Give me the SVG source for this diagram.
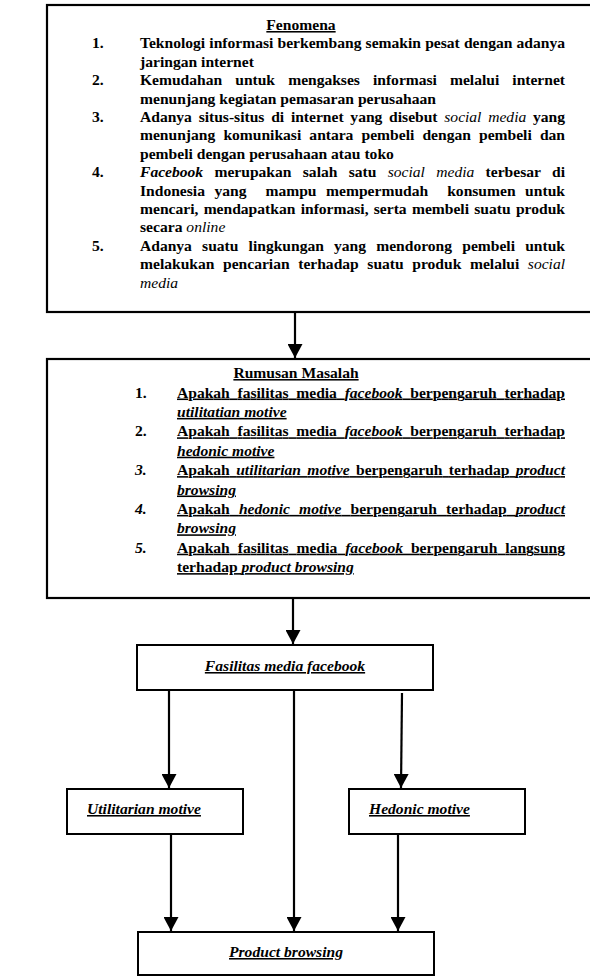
<svg xmlns="http://www.w3.org/2000/svg" width="590" height="976" viewBox="0 0 590 976">
<style>
.t{font-family:"Liberation Serif","Times New Roman",serif;font-size:15.6px;font-weight:bold;fill:#000}
.bi{font-style:italic}
.ri{font-style:italic;font-weight:normal}
.u{text-decoration:underline}
.box{fill:#fff;stroke:#000;stroke-width:2}
.big{fill:none;stroke:#000;stroke-width:2.2}
.c{stroke:#000;stroke-width:2.2;fill:none;marker-end:url(#ah)}
</style>
<defs>
<marker id="ah" viewBox="0 0 14 15" refX="14" refY="7.5" markerWidth="14" markerHeight="15" markerUnits="userSpaceOnUse" orient="auto">
<path d="M0,0 L14,7.5 L0,15 z" fill="#000"/>
</marker>
</defs>
<rect width="590" height="976" fill="#fff"/>

<g id="node-fenomena">
<rect class="big" x="47" y="5" width="560" height="307"/>
<text class="t u" x="301" y="30" text-anchor="middle">Fenomena</text>
<text class="t" x="92" y="48.4">1.</text>
<text class="t" x="140" y="48.4" textLength="425" lengthAdjust="spacing" word-spacing="0.3">Teknologi informasi berkembang semakin pesat dengan adanya</text>
<text class="t" x="140" y="66.8">jaringan internet</text>
<text class="t" x="92" y="85.2">2.</text>
<text class="t" x="140" y="85.2" textLength="425" lengthAdjust="spacing" word-spacing="9.3">Kemudahan untuk mengakses informasi melalui internet</text>
<text class="t" x="140" y="103.6">menunjang kegiatan pemasaran perusahaan</text>
<text class="t" x="92" y="122">3.</text>
<text class="t" x="140" y="122" textLength="425" lengthAdjust="spacing" word-spacing="2.9">Adanya situs-situs di internet yang disebut <tspan class="ri">social media</tspan> yang</text>
<text class="t" x="140" y="140.4" textLength="425" lengthAdjust="spacing" word-spacing="4.3">menunjang komunikasi antara pembeli dengan pembeli dan</text>
<text class="t" x="140" y="158.8">pembeli dengan perusahaan atau toko</text>
<text class="t" x="92" y="177.2">4.</text>
<text class="t" x="140" y="177.2" textLength="425" lengthAdjust="spacing" word-spacing="7.4"><tspan class="bi">Facebook</tspan> merupakan salah satu <tspan class="ri">social media</tspan> terbesar di</text>
<text class="t" x="140" y="195.6" textLength="425" lengthAdjust="spacing" word-spacing="5.6" xml:space="preserve">Indonesia yang  mampu mempermudah  konsumen untuk</text>
<text class="t" x="140" y="214" textLength="425" lengthAdjust="spacing" word-spacing="1.4">mencari, mendapatkan informasi, serta membeli suatu produk</text>
<text class="t" x="140" y="232.4">secara <tspan class="ri">online</tspan></text>
<text class="t" x="92" y="250.8">5.</text>
<text class="t" x="140" y="250.8" textLength="425" lengthAdjust="spacing" word-spacing="6.3">Adanya suatu lingkungan yang mendorong pembeli untuk</text>
<text class="t" x="140" y="269.2" textLength="425" lengthAdjust="spacing" word-spacing="4.7">melakukan pencarian terhadap suatu produk melalui <tspan class="ri">social</tspan></text>
<text class="t" x="140" y="287.6"><tspan class="ri">media</tspan></text>
</g>

<g id="node-rumusan">
<rect class="big" x="47" y="359" width="560" height="239"/>
<text class="t u" x="296" y="378" text-anchor="middle">Rumusan Masalah</text>
<text class="t" x="135" y="397.5">1.</text>
<text class="t u" x="177" y="397.5" textLength="388" lengthAdjust="spacing" word-spacing="3.9">Apakah fasilitas media <tspan class="bi">facebook</tspan> berpengaruh terhadap</text>
<text class="t u" x="177" y="416.9"><tspan class="bi">utilitatian motive</tspan></text>
<text class="t" x="135" y="436.3">2.</text>
<text class="t u" x="177" y="436.3" textLength="388" lengthAdjust="spacing" word-spacing="3.9">Apakah fasilitas media <tspan class="bi">facebook</tspan> berpengaruh terhadap</text>
<text class="t u" x="177" y="455.7"><tspan class="bi">hedonic motive</tspan></text>
<text class="t bi" x="135" y="475.1">3.</text>
<text class="t u" x="177" y="475.1" textLength="388" lengthAdjust="spacing" word-spacing="2.5">Apakah <tspan class="bi">utilitarian motive</tspan> berpengaruh terhadap <tspan class="bi">product</tspan></text>
<text class="t u" x="177" y="494.5"><tspan class="bi">browsing</tspan></text>
<text class="t bi" x="135" y="513.9">4.</text>
<text class="t u" x="177" y="513.9" textLength="388" lengthAdjust="spacing" word-spacing="5.3">Apakah <tspan class="bi">hedonic motive</tspan> berpengaruh terhadap <tspan class="bi">product</tspan></text>
<text class="t u" x="177" y="533.3"><tspan class="bi">browsing</tspan></text>
<text class="t bi" x="135" y="552.7">5.</text>
<text class="t u" x="177" y="552.7" textLength="388" lengthAdjust="spacing" word-spacing="4.1">Apakah fasilitas media <tspan class="bi">facebook</tspan> berpengaruh langsung</text>
<text class="t u" x="177" y="572.1">terhadap <tspan class="bi">product browsing</tspan></text>
</g>

<g id="node-fasilitas">
<rect class="box" x="137" y="645" width="296" height="45"/>
<text class="t bi u" x="285" y="671" text-anchor="middle">Fasilitas media facebook</text>
</g>

<g id="node-utilitarian">
<rect class="box" x="67" y="789" width="176" height="45"/>
<text class="t bi u" x="87" y="814">Utilitarian motive</text>
</g>

<g id="node-hedonic">
<rect class="box" x="349" y="789" width="176" height="45"/>
<text class="t bi u" x="369" y="814">Hedonic motive</text>
</g>

<g id="node-product">
<rect class="box" x="138" y="932" width="296" height="43"/>
<text class="t bi u" x="286" y="957" text-anchor="middle">Product browsing</text>
</g>

<g id="connectors">
<line class="c" x1="295" y1="313" x2="295" y2="358"/>
<line class="c" x1="293" y1="599" x2="293" y2="644"/>
<line class="c" x1="169" y1="691" x2="169" y2="788"/>
<line class="c" x1="294" y1="691" x2="294" y2="931"/>
<line class="c" x1="402" y1="693" x2="401" y2="788"/>
<line class="c" x1="171" y1="835" x2="171" y2="931"/>
<line class="c" x1="398" y1="835" x2="398" y2="931"/>
</g>
</svg>
